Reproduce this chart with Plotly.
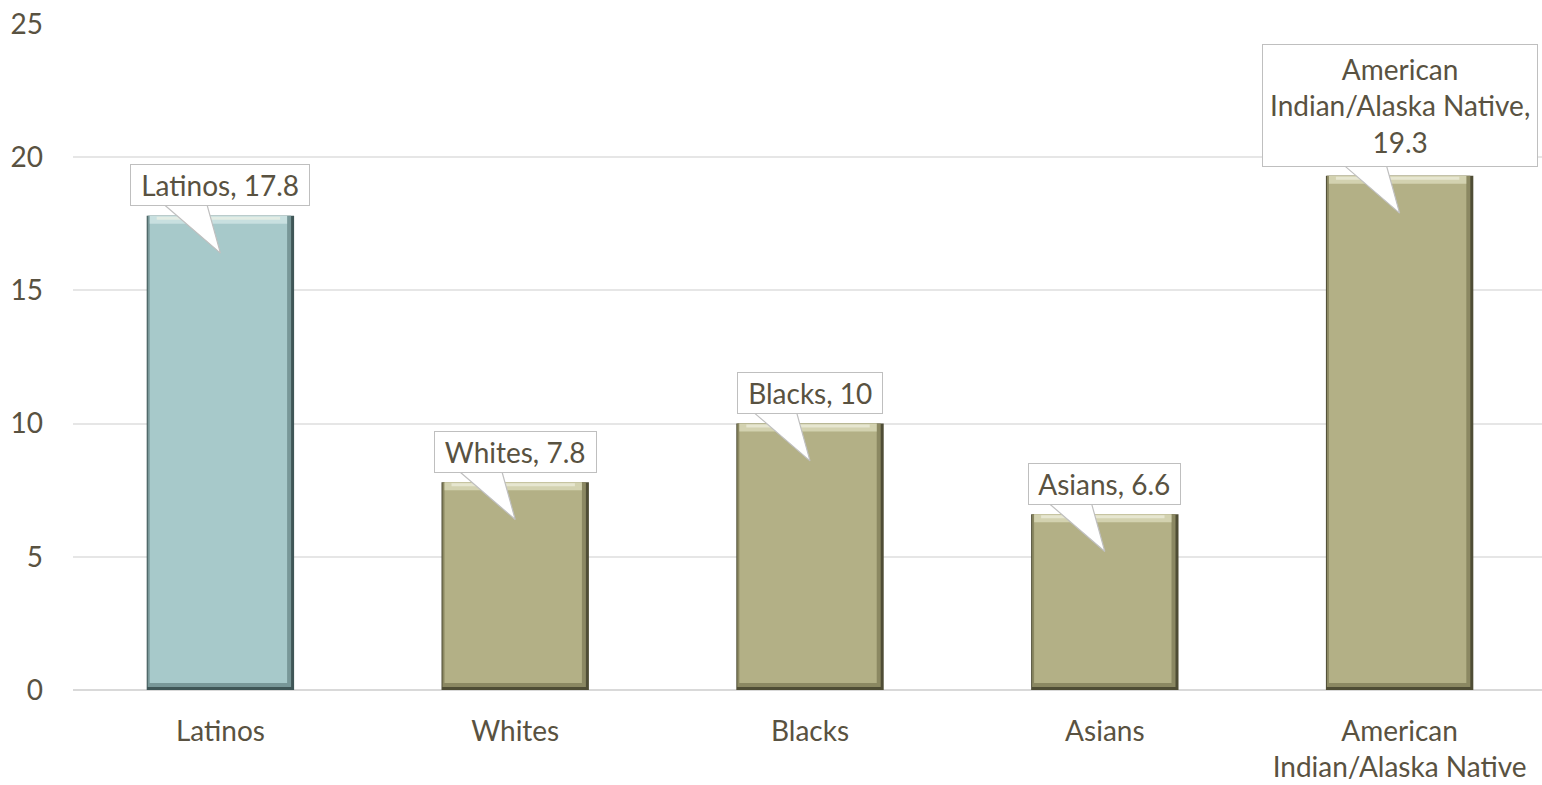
import plotly.graph_objects as go

categories = ["Latinos", "Whites", "Blacks", "Asians", "American<br>Indian/Alaska Native"]
values = [17.8, 7.8, 10, 6.6, 19.3]
callout_names = ["Latinos", "Whites", "Blacks", "Asians", "American<br>Indian/Alaska Native,"]
y_ticks = [0, 5, 10, 15, 20, 25]

fill_colors = ["#A7C9CA", "#B3B086", "#B3B086", "#B3B086", "#B3B086"]
edge_colors = ["#3F5657", "#4F4D35", "#4F4D35", "#4F4D35", "#4F4D35"]
mid_colors = ["#789798", "#8B8862", "#8B8862", "#8B8862", "#8B8862"]
light_colors = ["#D3E7E7", "#DEDDBD", "#DEDDBD", "#DEDDBD", "#DEDDBD"]
text_color = "#595241"
font_family = "Lato, 'Open Sans', sans-serif"

xpos = list(range(len(categories)))
n = len(values)
bar_w = 0.5
XU = 1 / 294.8   # x units per pixel (layout below)
YU = 25 / 666    # y units per pixel

fig = go.Figure()


def layer(colors, left_px, right_px, bottom_px, top_px, hover=False):
    w = bar_w - (left_px + right_px) * XU
    base = [bottom_px * YU] * n
    heights = [v - (bottom_px + top_px) * YU for v in values]
    fig.add_trace(go.Bar(
        x=xpos, y=heights, base=base, width=w, offset=[-bar_w / 2 + left_px * XU] * n,
        marker=dict(color=colors, line=dict(width=0)),
        customdata=values,
        hovertemplate="%{customdata}<extra></extra>" if hover else None,
        hoverinfo=None if hover else "skip",
    ))


layer(edge_colors, 0, 0, 0, 0)          # dark outer bevel
layer(mid_colors, 1, 3, 3, 0)           # mid bevel
layer(fill_colors, 3, 7, 7, 0, True)    # face
# top highlight strips
fig.add_trace(go.Bar(x=xpos, y=[8 * YU] * n, base=[v - 8 * YU for v in values],
                     width=bar_w - 10 * XU, offset=[-bar_w / 2 + 3 * XU] * n,
                     marker=dict(color=light_colors, opacity=0.75, line=dict(width=0)), hoverinfo="skip"))
fig.add_trace(go.Bar(x=xpos, y=[3 * YU] * n, base=[v - 4 * YU for v in values],
                     width=bar_w - 24 * XU, offset=[-bar_w / 2 + 10 * XU] * n,
                     marker=dict(color="#F4F3E6", opacity=0.6, line=dict(width=0)), hoverinfo="skip"))

# callout wedges
for i, v in enumerate(values):
    fig.add_trace(go.Scatter(
        x=[i - 0.21, i - 0.05, i, i - 0.21], y=[v + 0.6, v + 0.6, v - 1.4, v + 0.6],
        mode="lines", fill="toself", fillcolor="white",
        line=dict(color="#BFBFBF", width=1.2), hoverinfo="skip",
    ))

for i, (name, v) in enumerate(zip(callout_names, values)):
    multi = "<br>" in name
    label = f"{name}<br>{v:g}" if multi else f"&nbsp;{name}, {v:g}&nbsp;"
    fig.add_annotation(
        x=i, y=v + 0.35, xref="x", yref="y", yanchor="bottom",
        text=label, showarrow=False,
        bgcolor="white", bordercolor="#BFBFBF", borderwidth=1, borderpad=7 if multi else 3,
        font=dict(family=font_family, size=28, color=text_color),
    )

fig.update_layout(
    width=1542, height=785,
    margin=dict(l=73, r=0, t=24, b=95),
    plot_bgcolor="white", paper_bgcolor="white",
    showlegend=False, barmode="overlay",
    font=dict(family=font_family, size=28, color=text_color),
)
fig.update_xaxes(range=[-0.5, 4.483], tickvals=xpos, ticktext=categories,
                 showgrid=False, showline=False, zeroline=False, ticks="", ticklabelstandoff=22,
                 tickfont=dict(size=28, color=text_color))
fig.update_yaxes(range=[0, 25], tickvals=y_ticks, showgrid=True, gridcolor="#E6E6E6", gridwidth=1.5,
                 zeroline=True, zerolinecolor="#D9D9D9", zerolinewidth=2,
                 ticks="", ticklabelstandoff=29, tickfont=dict(size=28, color=text_color))

fig.write_html("out.html")
